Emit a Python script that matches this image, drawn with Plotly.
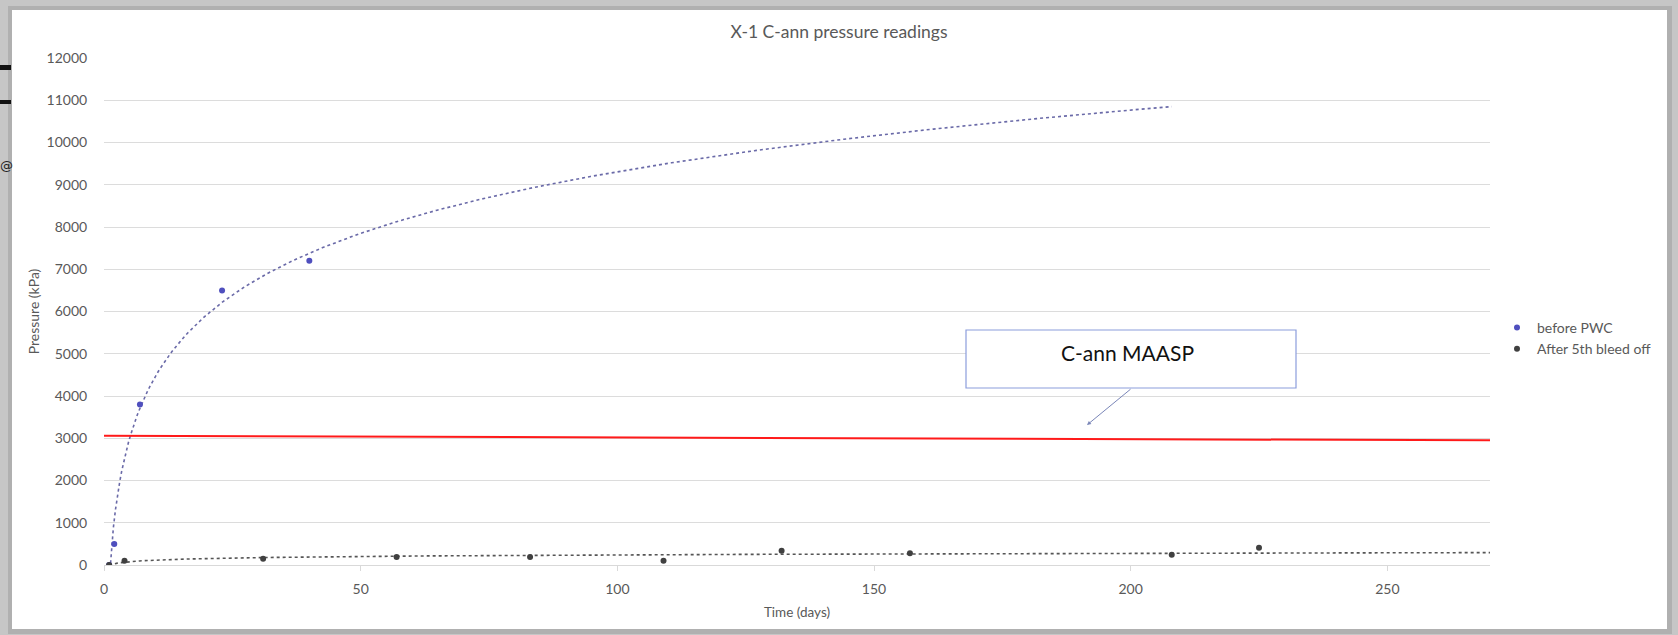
import numpy as np
import plotly.graph_objects as go

# ---------------- data ----------------
chart_title = "X-1 C-ann pressure readings"
x_title = "Time (days)"
y_title = "Pressure (kPa)"

before_name = "before PWC"
before_days = [1, 2, 7, 23, 40]
before_kpa = [0, 500, 3800, 6500, 7200]

after_name = "After 5th bleed off"
after_days = [1, 4, 31, 57, 83, 109, 132, 157, 208, 225]
after_kpa = [0, 100, 150, 190, 190, 100, 340, 280, 240, 410]

maasp_label = "C-ann MAASP"
maasp_days = [0, 270]
maasp_kpa = [3060, 2950]

before_trend_span = [1, 208]
after_trend_span = [1, 270]

x_ticks = [0, 50, 100, 150, 200, 250]
y_ticks = [0, 1000, 2000, 3000, 4000, 5000, 6000, 7000, 8000, 9000, 10000, 11000, 12000]

# ---------------- helpers ----------------
W, H = 1678, 635
L, R, T, B = 104, 1490, 58, 565


def px(xp):
    return (xp - L) / (R - L)


def py(yp):
    return (B - yp) / (B - T)


def log_trend(xs, ys, span):
    a, b = np.polyfit(np.log(np.array(xs, dtype=float)), np.array(ys, dtype=float), 1)
    t = np.linspace(span[0], span[1], 500)
    return t, a * np.log(t) + b


FONT = "Lato, 'Open Sans', sans-serif"
GREY_TXT = "#595959"
BLUE = "#4F4FBE"
DARK = "#404040"

fig = go.Figure()

bt_x, bt_y = log_trend(before_days, before_kpa, before_trend_span)
at_x, at_y = log_trend(after_days, after_kpa, after_trend_span)

fig.add_trace(go.Scatter(x=bt_x, y=bt_y, mode="lines", showlegend=False, hoverinfo="skip",
                         line=dict(color="#6A6AA8", width=1.6, dash="dot")))
fig.add_trace(go.Scatter(x=at_x, y=at_y, mode="lines", showlegend=False, hoverinfo="skip",
                         line=dict(color="#555555", width=1.6, dash="dot")))
fig.add_trace(go.Scatter(x=maasp_days, y=maasp_kpa, mode="lines", showlegend=False,
                         name=maasp_label, line=dict(color="#FF1A1A", width=2)))
fig.add_trace(go.Scatter(x=before_days, y=before_kpa, mode="markers", name=before_name,
                         marker=dict(color=BLUE, size=6)))
fig.add_trace(go.Scatter(x=after_days, y=after_kpa, mode="markers", name=after_name,
                         marker=dict(color=DARK, size=6)))

shapes = [
    # frame shadow + white chart sheet
    dict(type="rect", xref="paper", yref="paper", x0=px(8), x1=px(1672), y0=py(634), y1=py(6),
         fillcolor="#b0b0b0", line=dict(width=0), layer="below"),
    dict(type="rect", xref="paper", yref="paper", x0=px(12), x1=px(1667), y0=py(629), y1=py(10),
         fillcolor="#ffffff", line=dict(width=0), layer="below"),
    # bits of the document behind
    dict(type="rect", xref="paper", yref="paper", x0=px(0), x1=px(11), y0=py(70), y1=py(65),
         fillcolor="#111111", line=dict(width=0), layer="below"),
    dict(type="rect", xref="paper", yref="paper", x0=px(0), x1=px(11), y0=py(104), y1=py(100),
         fillcolor="#111111", line=dict(width=0), layer="below"),
    # callout box
    dict(type="rect", xref="paper", yref="paper", x0=px(966), x1=px(1296), y0=py(388), y1=py(330),
         fillcolor="#ffffff", line=dict(color="#8C9DDC", width=1.2), layer="above"),
]

annotations = [
    dict(xref="paper", yref="paper", x=px(1127), y=py(352), text=maasp_label, showarrow=False,
         font=dict(family=FONT, size=21, color="#111111"), xanchor="center", yanchor="middle"),
    dict(xref="paper", yref="paper", x=px(1087), y=py(425), ax=45, ay=-37, text="",
         showarrow=True, arrowhead=2, arrowsize=0.8, arrowwidth=1, arrowcolor="#7A86B8"),
    dict(xref="paper", yref="paper", x=px(-2), y=py(165), text="@", showarrow=False,
         xanchor="left", yanchor="middle", font=dict(family="DejaVu Sans", size=13, color="#222222")),
]

fig.update_layout(
    width=W, height=H,
    margin=dict(l=L, r=W - R, t=T, b=H - B, pad=0),
    paper_bgcolor="#c6c6c6",
    plot_bgcolor="#ffffff",
    font=dict(family=FONT, size=13, color=GREY_TXT),
    title=dict(text=chart_title, x=0.5, xref="container", xanchor="center",
               y=1 - 32 / H, yref="container", yanchor="middle",
               font=dict(family=FONT, size=17.5, color=GREY_TXT)),
    xaxis=dict(range=[0, 270], tickvals=x_ticks, ticktext=[str(v) for v in x_ticks],
               showgrid=False, zeroline=False, showline=True, linecolor="#D9D9D9", linewidth=1,
               ticks="outside", ticklen=5, tickcolor="#D9D9D9", ticklabelstandoff=6,
               tickfont=dict(family=FONT, size=14, color=GREY_TXT),
               title=dict(text=x_title, standoff=11, font=dict(family=FONT, size=13.5, color=GREY_TXT))),
    yaxis=dict(range=[0, 12000], tickvals=y_ticks, ticktext=[str(v) for v in y_ticks],
               showgrid=True, gridcolor="#DCDCDC", gridwidth=1, zeroline=False, showline=False,
               ticks="outside", ticklen=13, tickcolor="rgba(0,0,0,0)",
               tickfont=dict(family=FONT, size=14, color=GREY_TXT),
               title=dict(text=y_title, standoff=3, font=dict(family=FONT, size=14, color=GREY_TXT))),
    legend=dict(x=px(1497), y=py(312), xanchor="left", yanchor="top", bgcolor="rgba(0,0,0,0)",
                font=dict(family=FONT, size=14, color=GREY_TXT), itemwidth=30, tracegroupgap=0),
    shapes=shapes,
    annotations=annotations,
    showlegend=True,
)

fig.write_html(
    "out.html",
    config={"displayModeBar": False},
    post_script="document.body.style.margin='0px'; document.body.style.overflow='hidden';",
)
